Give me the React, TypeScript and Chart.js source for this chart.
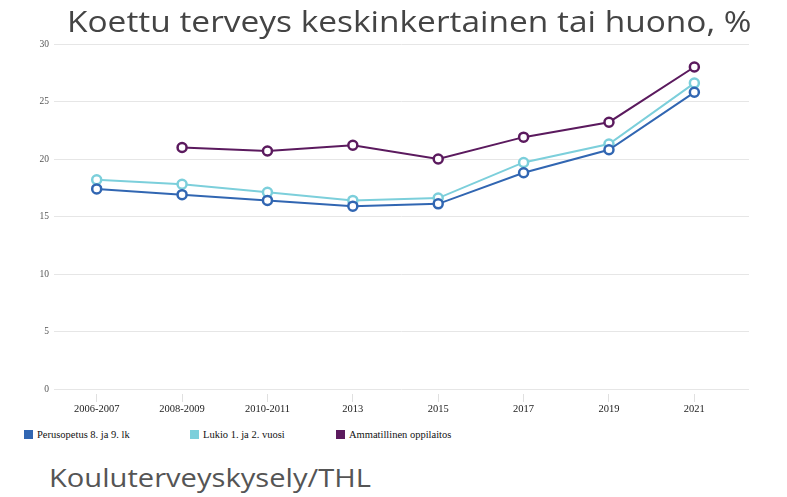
import React, { useEffect, useRef } from "react";
import { Chart, registerables } from "chart.js";

Chart.register(...registerables);

const title = "Koettu terveys keskinkertainen tai huono, %";
const source = "Kouluterveyskysely/THL";
const categories = ["2006-2007", "2008-2009", "2010-2011", "2013", "2015", "2017", "2019", "2021"];
const seriesNames = ["Perusopetus 8. ja 9. lk", "Lukio 1. ja 2. vuosi", "Ammatillinen oppilaitos"];
const perusopetus = [17.4, 16.9, 16.4, 15.9, 16.1, 18.8, 20.8, 25.8];
const lukio = [18.2, 17.8, 17.1, 16.4, 16.6, 19.7, 21.3, 26.6];
const ammatillinen = [null, 21.0, 20.7, 21.2, 20.0, 21.9, 23.2, 28.0];
const yTicks = [0, 5, 10, 15, 20, 25, 30];

const colors = ["#3166b2", "#7ccfdb", "#5b1a5e"];
const legendLeft = [24, 190, 336];
const serif = "'Liberation Serif', 'Times New Roman', Times, 'DejaVu Serif', serif";

export default function App() {
  const ref = useRef<HTMLCanvasElement | null>(null);

  useEffect(() => {
    if (!ref.current) return;
    const series = [perusopetus, lukio, ammatillinen];
    const chart = new Chart(ref.current, {
      type: "line",
      data: {
        datasets: series.map((vals, si) => ({
          label: seriesNames[si],
          data: vals.map((v, i) => ({ x: i, y: v })),
          borderColor: colors[si],
          backgroundColor: "#ffffff",
          borderWidth: 2,
          pointRadius: 4.5,
          pointBorderWidth: 2.5,
          pointBackgroundColor: "#ffffff",
          pointBorderColor: colors[si],
          tension: 0,
          spanGaps: false,
        })),
      },
      options: {
        animation: false,
        responsive: false,
        maintainAspectRatio: false,
        layout: { padding: { left: 0, right: 38, top: 44, bottom: 0 } },
        plugins: {
          legend: { display: false },
          tooltip: { enabled: false },
          title: { display: false },
        },
        scales: {
          x: {
            type: "linear",
            min: -0.5,
            max: 7.64,
            afterBuildTicks: (s: any) => {
              s.ticks = categories.map((_, i) => ({ value: i }));
            },
            afterFit: (s: any) => {
              s.height = 31;
            },
            ticks: {
              callback: (v: any) => categories[v as number] ?? "",
              color: "#222",
              font: { family: serif, size: 10.5 },
              padding: 1,
              maxRotation: 0,
              autoSkip: false,
            },
            grid: {
              drawOnChartArea: false,
              drawTicks: true,
              tickLength: 13,
              tickColor: "#e0e0e0",
              tickBorderDash: [0, 5, 8, 100],
            },
            border: { display: false },
          },
          y: {
            min: 0,
            max: 30,
            afterBuildTicks: (s: any) => {
              s.ticks = yTicks.map((v) => ({ value: v }));
            },
            afterFit: (s: any) => {
              s.width = 54;
            },
            ticks: {
              color: "#555",
              font: { family: serif, size: 9.5 },
              padding: 5,
            },
            grid: { color: "#e6e6e6", lineWidth: 1, drawTicks: false },
            border: { display: false },
          },
        },
      },
    });
    return () => chart.destroy();
  }, []);

  return (
    <div style={{ position: "fixed", left: 0, top: 0, width: 787, height: 497, background: "#fff", overflow: "hidden" }}>
      <canvas ref={ref} width={787} height={420} style={{ position: "absolute", left: 0, top: 0, width: 787, height: 420 }} />
      <div
        style={{
          position: "absolute",
          left: 67,
          top: 3,
          fontFamily: "'Open Sans', 'Noto Sans', sans-serif",
          fontSize: 30,
          color: "#444",
          whiteSpace: "nowrap",
          lineHeight: "36px",
          transform: "scaleX(1.115)",
          transformOrigin: "0 0",
        }}
      >
        {title}
      </div>
      {seriesNames.map((n, i) => (
        <div
          key={n}
          style={{
            position: "absolute",
            left: legendLeft[i],
            top: 429,
            display: "flex",
            alignItems: "center",
            fontFamily: serif,
            fontSize: 10.5,
            color: "#111",
            whiteSpace: "nowrap",
          }}
        >
          <span style={{ display: "inline-block", width: 9, height: 9, background: colors[i], marginRight: 4 }} />
          {n}
        </div>
      ))}
      <div
        style={{
          position: "absolute",
          left: 49,
          top: 461,
          fontFamily: "'Open Sans', 'Noto Sans', sans-serif",
          fontSize: 26,
          color: "#555",
          whiteSpace: "nowrap",
          lineHeight: "32px",
          transform: "scaleX(1.12)",
          transformOrigin: "0 0",
        }}
      >
        {source}
      </div>
    </div>
  );
}
